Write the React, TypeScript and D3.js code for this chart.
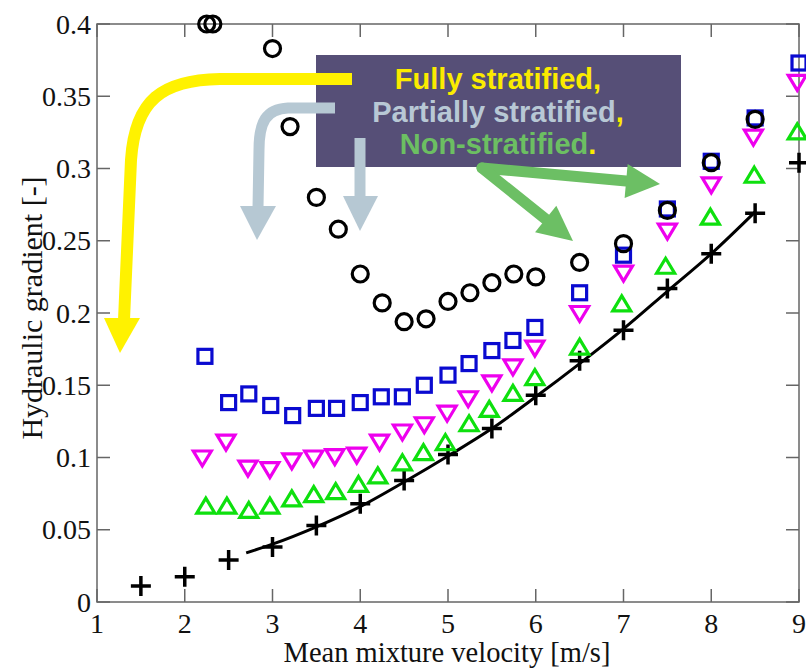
import React from "react";
import * as d3 from "d3";

const xTicks = [1, 2, 3, 4, 5, 6, 7, 8, 9];
const yTicks = [0, 0.05, 0.1, 0.15, 0.2, 0.25, 0.3, 0.35, 0.4];
const yTickLabels = ["0", "0.05", "0.1", "0.15", "0.2", "0.25", "0.3", "0.35", "0.4"];

// Fully stratified (black circles)
const circleX = [2.25, 2.32, 3, 3.2, 3.5, 3.75, 4, 4.25, 4.5, 4.75, 5, 5.25, 5.5, 5.75, 6, 6.5, 7, 7.5, 8, 8.5];
const circleY = [0.4, 0.4, 0.383, 0.329, 0.28, 0.258, 0.227, 0.207, 0.194, 0.196, 0.208, 0.214, 0.221, 0.227, 0.225, 0.235, 0.248, 0.271, 0.304, 0.334];

// blue squares
const squareX = [2.23, 2.5, 2.73, 2.98, 3.23, 3.5, 3.73, 4, 4.24, 4.48, 4.73, 5, 5.24, 5.5, 5.74, 5.99, 6.5, 7, 7.5, 8, 8.5, 9];
const squareY = [0.17, 0.138, 0.144, 0.136, 0.129, 0.134, 0.134, 0.138, 0.142, 0.142, 0.15, 0.157, 0.165, 0.174, 0.181, 0.19, 0.214, 0.24, 0.272, 0.305, 0.335, 0.373];

// magenta downward triangles
const triDownX = [2.2, 2.47, 2.72, 2.97, 3.22, 3.47, 3.71, 3.96, 4.22, 4.48, 4.73, 4.99, 5.23, 5.5, 5.74, 5.99, 6.5, 7, 7.5, 8, 8.48, 8.98];
const triDownY = [0.1, 0.111, 0.093, 0.092, 0.098, 0.1, 0.101, 0.102, 0.111, 0.118, 0.123, 0.131, 0.141, 0.152, 0.163, 0.176, 0.2, 0.228, 0.257, 0.289, 0.322, 0.36];

// green upward triangles
const triUpX = [2.24, 2.48, 2.73, 2.97, 3.22, 3.47, 3.72, 3.98, 4.2, 4.48, 4.72, 4.97, 5.24, 5.47, 5.74, 5.99, 6.5, 6.98, 7.48, 7.99, 8.49, 8.98];
const triUpY = [0.066, 0.066, 0.063, 0.066, 0.071, 0.074, 0.076, 0.081, 0.087, 0.096, 0.103, 0.11, 0.123, 0.133, 0.144, 0.155, 0.176, 0.206, 0.232, 0.266, 0.295, 0.325];

// black plus
const plusX = [1.5, 2, 2.5, 3, 3.5, 4, 4.5, 5, 5.5, 6, 6.5, 7, 7.5, 8, 8.5, 9];
const plusY = [0.011, 0.0175, 0.029, 0.038, 0.053, 0.068, 0.084, 0.102, 0.12, 0.143, 0.167, 0.188, 0.217, 0.241, 0.269, 0.304];

// fitted curve
const fitX = [2.7, 3, 3.5, 4, 4.5, 5, 5.5, 6, 6.5, 7, 7.5, 8, 8.5];
const fitY = [0.034, 0.04, 0.052, 0.066, 0.083, 0.101, 0.12, 0.142, 0.165, 0.189, 0.215, 0.241, 0.27];

const W = 806;
const H = 669;
const L = 97, R = 799, T = 24, B = 602;

const serif = "'Liberation Serif', 'Times New Roman', serif";
const sans = "'Liberation Sans', Arial, Helvetica, sans-serif";

function head(fx: number, fy: number, tx: number, ty: number, len: number, hw: number) {
  const dx = tx - fx, dy = ty - fy;
  const d = Math.hypot(dx, dy);
  const ux = dx / d, uy = dy / d;
  const bx = tx - ux * len, by = ty - uy * len;
  const px = -uy, py = ux;
  return {
    base: [bx, by],
    poly: `${bx + px * hw},${by + py * hw} ${tx},${ty} ${bx - px * hw},${by - py * hw}`,
  };
}

export default function App() {
  const x = d3.scaleLinear().domain([1, 9]).range([L, R]);
  const y = d3.scaleLinear().domain([0, 0.4]).range([B, T]);

  const fitLine = d3
    .line<number>()
    .x((_, i) => x(fitX[i]))
    .y((d) => y(d))
    .curve(d3.curveMonotoneX)(fitY) as string;

  const tickLen = 13;
  const axisColor = "#666";

  const g1 = head(482, 168, 660, 184, 34, 17);
  const g2 = head(482, 168, 573, 241, 35, 17);

  return (
    <div style={{ position: "absolute", left: 0, top: 0 }}>
      <svg width={W} height={H} style={{ display: "block", background: "#fff" }}>
        {/* axes box */}
        <rect x={L} y={T} width={R - L} height={B - T} fill="none" stroke={axisColor} strokeWidth={1.5} />
        {xTicks.map((t) => (
          <g key={"xt" + t}>
            <line x1={x(t)} x2={x(t)} y1={B} y2={B - tickLen} stroke={axisColor} strokeWidth={1.5} />
            <line x1={x(t)} x2={x(t)} y1={T} y2={T + tickLen} stroke={axisColor} strokeWidth={1.5} />
            <text x={x(t)} y={633} textAnchor="middle" fontFamily={serif} fontSize={28} fill="#111">
              {t}
            </text>
          </g>
        ))}
        {yTicks.map((t, i) => (
          <g key={"yt" + t}>
            <line x1={L} x2={L + tickLen} y1={y(t)} y2={y(t)} stroke={axisColor} strokeWidth={1.5} />
            <line x1={R} x2={R - tickLen} y1={y(t)} y2={y(t)} stroke={axisColor} strokeWidth={1.5} />
            <text x={91} y={y(t) + 9.5} textAnchor="end" fontFamily={serif} fontSize={28} fill="#111">
              {yTickLabels[i]}
            </text>
          </g>
        ))}
        <text x={(L + R) / 2 - 1} y={662} textAnchor="middle" fontFamily={serif} fontSize={28.5} fill="#111">
          Mean mixture velocity [m/s]
        </text>
        <text
          transform={`translate(42, 308) rotate(-90)`}
          textAnchor="middle"
          fontFamily={serif}
          fontSize={30}
          fill="#111"
        >
          Hydraulic gradient [-]
        </text>

        {/* fitted curve */}
        <path d={fitLine} fill="none" stroke="#000" strokeWidth={3} />

        {/* plus markers */}
        {plusX.map((v, i) => (
          <path
            key={"p" + i}
            d={`M${x(v) - 10},${y(plusY[i])}H${x(v) + 10}M${x(v)},${y(plusY[i]) - 10}V${y(plusY[i]) + 10}`}
            stroke="#000"
            strokeWidth={3.5}
            fill="none"
          />
        ))}
        {/* green up triangles */}
        {triUpX.map((v, i) => {
          const cx = x(v), cy = y(triUpY[i]);
          return (
            <path
              key={"tu" + i}
              d={`M${cx},${cy - 8.5}L${cx + 9},${cy + 6.5}L${cx - 9},${cy + 6.5}Z`}
              fill="none"
              stroke="#0ee00e"
              strokeWidth={3.2}
            />
          );
        })}
        {/* magenta down triangles */}
        {triDownX.map((v, i) => {
          const cx = x(v), cy = y(triDownY[i]);
          return (
            <path
              key={"td" + i}
              d={`M${cx - 9},${cy - 6.5}L${cx + 9},${cy - 6.5}L${cx},${cy + 8.5}Z`}
              fill="none"
              stroke="#ee00ee"
              strokeWidth={3.2}
            />
          );
        })}
        {/* blue squares */}
        {squareX.map((v, i) => (
          <rect
            key={"s" + i}
            x={x(v) - 7}
            y={y(squareY[i]) - 7}
            width={14}
            height={14}
            fill="none"
            stroke="#0a0ad0"
            strokeWidth={3.2}
          />
        ))}
        {/* black circles */}
        {circleX.map((v, i) => (
          <circle key={"c" + i} cx={x(v)} cy={y(circleY[i])} r={8} fill="none" stroke="#000" strokeWidth={3.2} />
        ))}

        {/* annotation box */}
        <rect x={316} y={55} width={365} height={112} fill="#564f77" />

        {/* yellow arrow */}
        <path d="M352,79 L220,79 C162,80 135,100 131,160 L124,320" fill="none" stroke="#fff200" strokeWidth={12} />
        <polygon points="104,318 140,318 120,353" fill="#fff200" />

        {/* gray arrows */}
        <path d="M335,108 L288,108 C266,109 259,122 259,150 L258,208" fill="none" stroke="#b6c8d3" strokeWidth={11} />
        <polygon points="240,206 276,206 257,240" fill="#b6c8d3" />
        <path d="M360,138 L360,198" fill="none" stroke="#b6c8d3" strokeWidth={11} />
        <polygon points="343,196 378,196 360,231" fill="#b6c8d3" />

        {/* green arrows */}
        <path
          d={`M482,168 L${g1.base[0]},${g1.base[1]}`}
          stroke="#6cbf64"
          strokeWidth={11}
          strokeLinecap="round"
          fill="none"
        />
        <polygon points={g1.poly} fill="#6cbf64" />
        <path
          d={`M482,168 L${g2.base[0]},${g2.base[1]}`}
          stroke="#6cbf64"
          strokeWidth={11}
          strokeLinecap="round"
          fill="none"
        />
        <polygon points={g2.poly} fill="#6cbf64" />

        {/* annotation text */}
        <text x={498} y={89} textAnchor="middle" fontFamily={sans} fontWeight="bold" fontSize={29} fill="#fbeb00">
          Fully stratified,
        </text>
        <text x={498} y={122} textAnchor="middle" fontFamily={sans} fontWeight="bold" fontSize={29} fill="#b8c8d5">
          Partially stratified<tspan fill="#fbeb00">,</tspan>
        </text>
        <text x={498} y={154} textAnchor="middle" fontFamily={sans} fontWeight="bold" fontSize={29} fill="#6cbf62">
          Non-stratified<tspan fill="#fbeb00">.</tspan>
        </text>
      </svg>
    </div>
  );
}
